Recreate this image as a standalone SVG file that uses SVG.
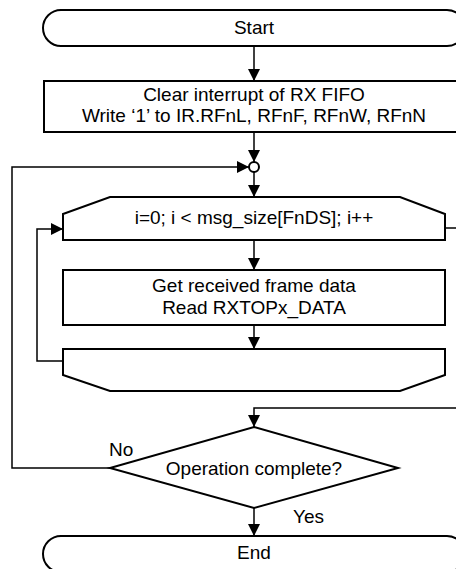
<svg xmlns="http://www.w3.org/2000/svg" width="456" height="569" viewBox="0 0 456 569">
<style>
.s{fill:#fff;stroke:#000;stroke-width:2}
.c{fill:none;stroke:#000;stroke-width:1.5}
text{font-family:"Liberation Sans",Arial,sans-serif;font-size:19px;fill:#000;text-anchor:middle}
.l{text-anchor:start}
</style>
<defs>
<marker id="a" viewBox="0 0 12 12" refX="12" refY="6" markerWidth="12" markerHeight="12" markerUnits="userSpaceOnUse" orient="auto">
<path d="M0,0 L12,6 L0,12 Z" fill="#000"/>
</marker>
</defs>
<g id="connectors">
<path class="c" d="M254,46 V81" marker-end="url(#a)"/>
<path class="c" d="M254,132 V162" marker-end="url(#a)"/>
<path class="c" d="M254,172 V197" marker-end="url(#a)"/>
<path class="c" d="M254,240 V270" marker-end="url(#a)"/>
<path class="c" d="M254,325 V349" marker-end="url(#a)"/>
<path class="c" d="M63,361 H37 V229 H63" marker-end="url(#a)"/>
<path class="c" d="M445,228 H470 V408 H254 V427" marker-end="url(#a)"/>
<path class="c" d="M110,468 H12 V167 H249" marker-end="url(#a)"/>
<path class="c" d="M254,508 V536" marker-end="url(#a)"/>
</g>
<g id="start">
<rect class="s" x="43" y="10" width="422" height="36" rx="18"/>
<text x="254" y="34">Start</text>
</g>
<g id="clear">
<rect class="s" x="44" y="81" width="421" height="51"/>
<text x="254" y="101">Clear interrupt of RX FIFO</text>
<text x="254" y="122">Write ‘1’ to IR.RFnL, RFnF, RFnW, RFnN</text>
</g>
<g id="merge">
<circle class="s" cx="254" cy="167" r="5" stroke-width="1.5"/>
</g>
<g id="loopstart">
<path class="s" d="M110,197 H400 L445,214 V240 H63 V214 Z"/>
<text x="254" y="224">i=0; i &lt; msg_size[FnDS]; i++</text>
</g>
<g id="getdata">
<rect class="s" x="63" y="270" width="382" height="55"/>
<text x="254" y="292">Get received frame data</text>
<text x="254" y="314">Read RXTOPx_DATA</text>
</g>
<g id="loopend">
<path class="s" d="M63,349 H445 V375 L400,391 H110 L63,375 Z"/>
</g>
<g id="decision">
<path class="s" d="M254,427 L398,468 L254,508 L110,468 Z"/>
<text x="254" y="475">Operation complete?</text>
<text class="l" x="109" y="456">No</text>
<text class="l" x="293" y="523">Yes</text>
</g>
<g id="end">
<rect class="s" x="43" y="536" width="422" height="36" rx="18"/>
<text x="254" y="559">End</text>
</g>
</svg>
